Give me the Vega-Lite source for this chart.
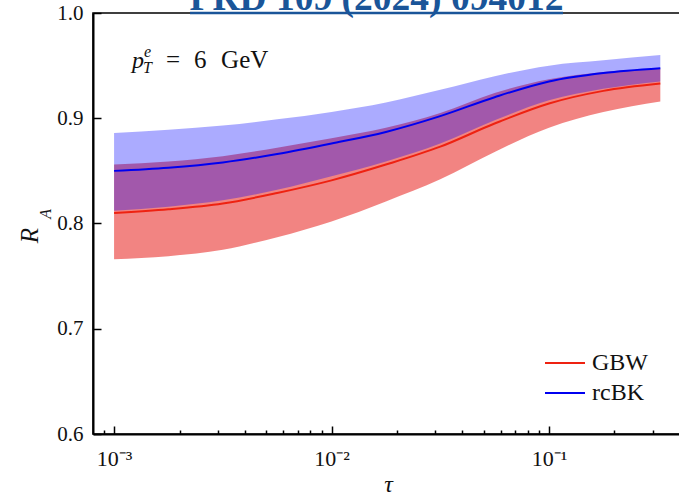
{
  "$schema": "https://vega.github.io/schema/vega-lite/v6.json",
  "width": 608,
  "height": 421,
  "autosize": {"type": "none"},
  "padding": {"left": 93, "top": 13, "right": 0, "bottom": 61},
  "background": "white",
  "config": {
    "view": {"stroke": "#000", "strokeWidth": 1.6},
    "font": "Liberation Serif",
    "axis": {
      "grid": false,
      "domainColor": "#000",
      "domainWidth": 2,
      "tickColor": "#000",
      "tickWidth": 1.5,
      "labelFont": "Liberation Serif",
      "labelFontSize": 21,
      "labelColor": "#111",
      "labelOverlap": false,
      "titleFont": "Liberation Serif",
      "titleFontWeight": "normal",
      "titleFontStyle": "italic",
      "titleColor": "#111"
    }
  },
  "resolve": {"axis": {"y": "independent"}},
  "data": {
    "values": [
      {"tau": 0.001, "model": "GBW", "lo": 0.766, "mid": 0.810, "hi": 0.856},
      {"tau": 0.001778, "model": "GBW", "lo": 0.769, "mid": 0.8135, "hi": 0.859},
      {"tau": 0.003162, "model": "GBW", "lo": 0.775, "mid": 0.819, "hi": 0.864},
      {"tau": 0.005623, "model": "GBW", "lo": 0.787, "mid": 0.829, "hi": 0.872},
      {"tau": 0.01, "model": "GBW", "lo": 0.802, "mid": 0.841, "hi": 0.881},
      {"tau": 0.01778, "model": "GBW", "lo": 0.821, "mid": 0.856, "hi": 0.891},
      {"tau": 0.03162, "model": "GBW", "lo": 0.842, "mid": 0.873, "hi": 0.905},
      {"tau": 0.05623, "model": "GBW", "lo": 0.868, "mid": 0.895, "hi": 0.924},
      {"tau": 0.1, "model": "GBW", "lo": 0.891, "mid": 0.914, "hi": 0.937},
      {"tau": 0.1778, "model": "GBW", "lo": 0.906, "mid": 0.926, "hi": 0.944},
      {"tau": 0.325, "model": "GBW", "lo": 0.916, "mid": 0.933, "hi": 0.947},
      {"tau": 0.001, "model": "rcBK", "lo": 0.812, "mid": 0.850, "hi": 0.886},
      {"tau": 0.001778, "model": "rcBK", "lo": 0.816, "mid": 0.853, "hi": 0.889},
      {"tau": 0.003162, "model": "rcBK", "lo": 0.822, "mid": 0.858, "hi": 0.893},
      {"tau": 0.005623, "model": "rcBK", "lo": 0.832, "mid": 0.866, "hi": 0.899},
      {"tau": 0.01, "model": "rcBK", "lo": 0.845, "mid": 0.876, "hi": 0.906},
      {"tau": 0.01778, "model": "rcBK", "lo": 0.859, "mid": 0.887, "hi": 0.915},
      {"tau": 0.03162, "model": "rcBK", "lo": 0.876, "mid": 0.902, "hi": 0.927},
      {"tau": 0.05623, "model": "rcBK", "lo": 0.898, "mid": 0.920, "hi": 0.940},
      {"tau": 0.1, "model": "rcBK", "lo": 0.917, "mid": 0.935, "hi": 0.950},
      {"tau": 0.1778, "model": "rcBK", "lo": 0.928, "mid": 0.943, "hi": 0.955},
      {"tau": 0.325, "model": "rcBK", "lo": 0.935, "mid": 0.9476, "hi": 0.960}
    ]
  },
  "layer": [
    {
      "transform": [{"filter": "datum.model == 'GBW'"}],
      "mark": {"type": "area", "interpolate": "monotone", "color": "#e60a05", "opacity": 0.5},
      "encoding": {
        "x": {
          "field": "tau",
          "type": "quantitative",
          "scale": {"type": "log", "domain": [0.0008, 0.5], "nice": false},
          "axis": {
            "values": [0.0009, 0.001, 0.002, 0.003, 0.004, 0.005, 0.006, 0.007, 0.008, 0.009, 0.01, 0.02, 0.03, 0.04, 0.05, 0.06, 0.07, 0.08, 0.09, 0.1, 0.2, 0.3, 0.4],
            "labelExpr": "datum.value == 0.001 ? '10⁻³' : datum.value == 0.01 ? '10⁻²' : datum.value == 0.1 ? '10⁻¹' : ''",
            "tickSize": {"condition": {"test": "datum.value == 0.001 || datum.value == 0.01 || datum.value == 0.1", "value": -8}, "value": -4},
            "labelPadding": 22,
            "labelFontSize": 22,
            "labelFlush": false,
            "labelOverlap": false,
            "title": "τ",
            "titleFontSize": 24,
            "titleX": 295,
            "titleY": 57,
            "titleBaseline": "alphabetic",
            "titleAlign": "center"
          }
        },
        "y": {
          "field": "lo",
          "type": "quantitative",
          "scale": {"domain": [0.6, 1.0], "nice": false, "zero": false},
          "axis": {
            "values": [0.6, 0.7, 0.8, 0.9, 1.0],
            "format": ".1f",
            "tickSize": -8,
            "labelPadding": 18,
            "labelOverlap": false,
            "labelFlush": false,
            "title": "R",
            "titleFontSize": 25,
            "titleAngle": 270,
            "titleX": -64,
            "titleY": 222,
            "titleAlign": "center",
            "titleBaseline": "middle"
          }
        },
        "y2": {"field": "hi"}
      }
    },
    {
      "transform": [{"filter": "datum.model == 'rcBK'"}],
      "mark": {"type": "area", "interpolate": "monotone", "color": "#0000ff", "opacity": 0.33},
      "encoding": {
        "x": {"field": "tau", "type": "quantitative"},
        "y": {
          "field": "lo",
          "type": "quantitative",
          "axis": {
            "values": [0.62, 0.64, 0.66, 0.68, 0.72, 0.74, 0.76, 0.78, 0.82, 0.84, 0.86, 0.88, 0.92, 0.94, 0.96, 0.98],
            "labels": false,
            "domain": false,
            "tickSize": -4,
            "title": null
          }
        },
        "y2": {"field": "hi"}
      }
    },
    {
      "mark": {"type": "line", "interpolate": "monotone", "strokeWidth": 2},
      "encoding": {
        "x": {"field": "tau", "type": "quantitative"},
        "y": {"field": "mid", "type": "quantitative", "axis": null},
        "color": {
          "field": "model",
          "type": "nominal",
          "scale": {"domain": ["GBW", "rcBK"], "range": ["#ee2211", "#0000f0"]},
          "legend": {
            "title": null,
            "orient": "none",
            "legendX": 460,
            "legendY": 338,
            "symbolType": "M-2,0H2",
            "symbolSize": 400,
            "symbolStrokeWidth": 2,
            "labelFont": "Liberation Serif",
            "labelFontSize": 24,
            "labelColor": "#111",
            "labelOffset": 15,
            "rowPadding": 6,
            "padding": 0
          }
        }
      }
    },
    {
      "data": {"values": [{"tau": 0.002235, "tau2": 0.116, "v": 1.0}]},
      "mark": {"type": "rule", "color": "#1a5599", "strokeWidth": 2.5},
      "encoding": {
        "x": {"field": "tau", "type": "quantitative"},
        "x2": {"field": "tau2"},
        "y": {"field": "v", "type": "quantitative", "axis": null}
      }
    },
    {
      "data": {"values": [{"label": "PRD 109 (2024) 094012"}]},
      "mark": {"type": "text", "align": "center", "baseline": "alphabetic", "fontSize": 37.5, "fontWeight": "bold", "font": "Liberation Serif", "dy": -3, "color": "#1a5599"},
      "encoding": {"x": {"datum": 0.01609}, "y": {"datum": 1.0, "axis": null}, "text": {"field": "label"}}
    },
    {
      "data": {"values": [{"label": "p"}]},
      "mark": {"type": "text", "align": "left", "baseline": "alphabetic", "fontSize": 24, "fontStyle": "italic", "font": "Liberation Serif", "color": "#111"},
      "encoding": {"x": {"datum": 0.00121}, "y": {"datum": 0.948, "axis": null}, "text": {"field": "label"}}
    },
    {
      "data": {"values": [{"label": "e"}]},
      "mark": {"type": "text", "align": "left", "baseline": "alphabetic", "fontSize": 16, "fontStyle": "italic", "font": "Liberation Serif", "dx": 12, "dy": -11, "color": "#111"},
      "encoding": {"x": {"datum": 0.00121}, "y": {"datum": 0.948, "axis": null}, "text": {"field": "label"}}
    },
    {
      "data": {"values": [{"label": "T"}]},
      "mark": {"type": "text", "align": "left", "baseline": "alphabetic", "fontSize": 16, "fontStyle": "italic", "font": "Liberation Serif", "dx": 11, "dy": 5, "color": "#111"},
      "encoding": {"x": {"datum": 0.00121}, "y": {"datum": 0.948, "axis": null}, "text": {"field": "label"}}
    },
    {
      "data": {"values": [{"label": "="}]},
      "mark": {"type": "text", "align": "left", "baseline": "alphabetic", "fontSize": 25, "font": "Liberation Serif", "dx": 34, "color": "#111"},
      "encoding": {"x": {"datum": 0.00121}, "y": {"datum": 0.948, "axis": null}, "text": {"field": "label"}}
    },
    {
      "data": {"values": [{"label": "6"}]},
      "mark": {"type": "text", "align": "left", "baseline": "alphabetic", "fontSize": 25, "font": "Liberation Serif", "dx": 62, "color": "#111"},
      "encoding": {"x": {"datum": 0.00121}, "y": {"datum": 0.948, "axis": null}, "text": {"field": "label"}}
    },
    {
      "data": {"values": [{"label": "GeV"}]},
      "mark": {"type": "text", "align": "left", "baseline": "alphabetic", "fontSize": 25, "font": "Liberation Serif", "dx": 89, "color": "#111"},
      "encoding": {"x": {"datum": 0.00121}, "y": {"datum": 0.948, "axis": null}, "text": {"field": "label"}}
    },
    {
      "data": {"values": [{"label": "A"}]},
      "mark": {"type": "text", "align": "center", "baseline": "middle", "angle": 270, "fontSize": 16, "fontStyle": "italic", "font": "Liberation Serif", "dy": -47, "color": "#111"},
      "encoding": {"x": {"datum": 0.0008}, "y": {"datum": 0.8092, "axis": null}, "text": {"field": "label"}}
    }
  ]
}
